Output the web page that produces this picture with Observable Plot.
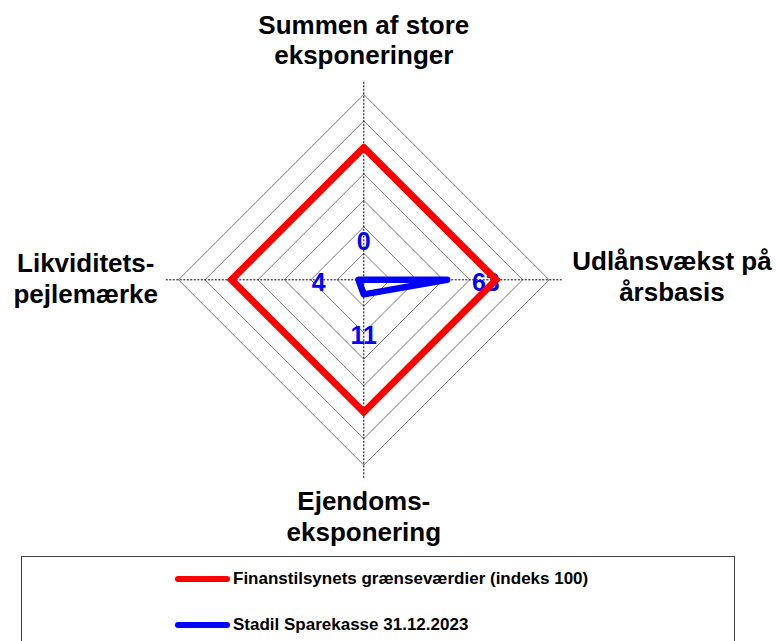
<!DOCTYPE html>
<html><head><meta charset="utf-8">
<script src="https://cdn.jsdelivr.net/npm/d3@7"></script>
<script src="https://cdn.jsdelivr.net/npm/@observablehq/plot@0.6"></script>
<style>
body{margin:0;background:#fff;font-family:"Liberation Sans",Arial,sans-serif;}
#chart svg{display:block;}
#legend{position:relative;margin-left:21px;width:714px;height:120px;border:1px solid #404040;border-bottom:none;box-sizing:border-box;}
.item{position:absolute;left:153px;height:20px;display:flex;align-items:center;font-weight:bold;font-size:17px;color:#000;white-space:nowrap;}
.sw{width:55px;height:6px;border-radius:3px;margin-right:3px;}
</style></head><body>
<div id="chart"></div>
<div id="legend"></div>
<script>
// ---- data ----
const axisNames = ["Summen af store\neksponeringer", "Udlånsvækst på\nårsbasis", "Ejendoms-\neksponering", "Likviditets-\npejlemærke"];
const limitValues = [100, 100, 100, 100];
const stadilValues = [0, 63, 11, 4];
const seriesNames = ["Finanstilsynets grænseværdier (indeks 100)", "Stadil Sparekasse 31.12.2023"];
const seriesColors = ["#ff0000", "#0000ff"];
const gridLevels = [20, 40, 60, 80, 100, 120, 140];
const axisMax = 150;
const labelRadius = 158;

// ---- geometry ----
const n = axisNames.length;
const ang = i => (2 * Math.PI * i) / n;
const px = (i, r) => r * Math.sin(ang(i));
const py = (i, r) => r * Math.cos(ang(i));
const ring = (vals, key) => d3.range(n + 1).map(j => ({x: px(j % n, vals[j % n]), y: py(j % n, vals[j % n]), key}));

const gridData = gridLevels.flatMap(l => ring(Array(n).fill(l), l));
const axisData = axisNames.map((name, i) => ({x1: 0, y1: 0, x2: px(i, axisMax), y2: py(i, axisMax)}));
const limitRing = ring(limitValues, "limit");
const stadilRing = ring(stadilValues, "stadil");

// scale: centre of radar at pixel (363.3, 279.3); 140 units = 185.3 px
const k = 185.3 / 140;
const W = 777, H = 556, cx = 363.3, cy = 279.3;

const labelStyle = [
  {dx: 0, dy: -31.5},
  {dx: 99, dy: -4},
  {dx: 0, dy: 27},
  {dx: -69, dy: -2}
];
const valueStyle = [
  {dx: 0, dy: -37.7},
  {dx: 38.6, dy: 3.3},
  {dx: 0, dy: 42},
  {dx: -39.7, dy: 3.3}
];

const marks = [
  Plot.line(gridData, {x: "x", y: "y", z: "key", stroke: "#3c3c3c", strokeWidth: 0.7}),
  Plot.link(axisData, {x1: "x1", y1: "y1", x2: "x2", y2: "y2", stroke: "#000", strokeWidth: 1, strokeDasharray: "2,1.5"})
];
axisNames.forEach((name, i) => {
  marks.push(Plot.text([{name, x: px(i, labelRadius), y: py(i, labelRadius)}], {
    x: "x", y: "y", text: "name", textAnchor: "middle", lineAnchor: "middle", lineHeight: 1.17,
    fontSize: 26, fontWeight: "bold", fill: "#000", dx: labelStyle[i].dx, dy: labelStyle[i].dy
  }));
  marks.push(Plot.text([{v: stadilValues[i], x: px(i, stadilValues[i]), y: py(i, stadilValues[i])}], {
    x: "x", y: "y", text: d => String(d.v), textAnchor: "middle", lineAnchor: "middle",
    fontSize: 25, fontWeight: "bold", fill: seriesColors[1], dx: valueStyle[i].dx, dy: valueStyle[i].dy
  }));
});
marks.push(Plot.line(limitRing, {x: "x", y: "y", stroke: seriesColors[0], strokeWidth: 7, strokeLinejoin: "miter", strokeMiterlimit: 4}));
marks.push(Plot.line(stadilRing, {x: "x", y: "y", stroke: seriesColors[1], strokeWidth: 6.5, strokeLinejoin: "round", strokeLinecap: "round"}));

const chart = Plot.plot({
  width: W, height: H, margin: 0,
  style: {fontFamily: "'Liberation Sans', Arial, sans-serif", background: "#fff", overflow: "visible"},
  x: {domain: [-cx / k, (W - cx) / k], axis: null},
  y: {domain: [-(H - cy) / k, cy / k], axis: null},
  marks
});
document.getElementById("chart").appendChild(chart);

// ---- legend ----
const legend = document.getElementById("legend");
const itemTops = [12, 58];
seriesNames.forEach((s, i) => {
  const it = document.createElement("div");
  it.className = "item";
  it.style.top = itemTops[i] + "px";
  const sw = document.createElement("span");
  sw.className = "sw";
  sw.style.background = seriesColors[i];
  it.appendChild(sw);
  it.appendChild(document.createTextNode(s));
  legend.appendChild(it);
});
</script>
</body></html>
